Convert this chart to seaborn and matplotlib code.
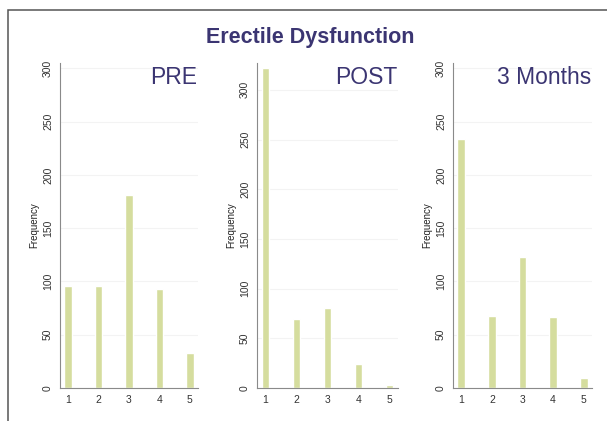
import numpy as np
import pandas as pd
import seaborn as sns
import matplotlib.pyplot as plt
from matplotlib.patches import Rectangle

# response categories (1-5) and counts per time point
scores = [1, 2, 3, 4, 5]
pre_counts = [96, 96, 181, 93, 33]
post_counts = [322, 69, 80, 24, 3]
months3_counts = [234, 68, 123, 67, 9]
panel_titles = ["PRE", "POST", "3 Months"]

BAR_COLOR = "#d5dd9e"
TEXT_COLOR = "#3b3572"
AXIS_COLOR = "#8a8a8a"

sns.set_style("white")
plt.rcParams['font.family'] = ['Liberation Sans', 'DejaVu Sans']

W, H = 607, 421
fig = plt.figure(figsize=(W / 100, H / 100), dpi=100)

# outer frame
fig.patches.append(Rectangle((8 / W, -0.05), 1.2, 1 - 10 / H + 0.05,
                             transform=fig.transFigure, fill=False,
                             edgecolor="#555555", linewidth=1.1))

fig.text(310 / W, 1 - 38 / H, "Erectile Dysfunction", ha="center", va="center",
         fontsize=15.5, fontweight="bold", color=TEXT_COLOR)

# axes boxes in pixels: left, right, top, bottom
boxes = [(60, 198, 63, 388), (257, 398, 63, 388), (453, 592, 63, 388)]
ylims = [305, 327, 305]
datasets = [pre_counts, post_counts, months3_counts]

for (l, r, t, b), counts, title, ytop in zip(boxes, datasets, panel_titles, ylims):
    ax = fig.add_axes([l / W, 1 - b / H, (r - l) / W, (b - t) / H])
    df = pd.DataFrame({"score": scores, "count": counts})
    sns.barplot(data=df, x="score", y="count", color=BAR_COLOR, width=0.25,
                saturation=1, ax=ax)
    ax.set_xlim(-0.27, 4.27)
    ax.set_ylim(0, ytop)
    ax.set_yticks(np.arange(0, 301, 50))
    ax.yaxis.grid(True, color="#f3f3f3", linewidth=0.8)
    ax.set_axisbelow(True)
    sns.despine(ax=ax)
    for s in ["left", "bottom"]:
        ax.spines[s].set_color(AXIS_COLOR)
        ax.spines[s].set_linewidth(0.8)
    ax.tick_params(axis="both", length=3, width=0.7, color=AXIS_COLOR,
                   labelsize=7.5, labelcolor="#333333", pad=2)
    for lab in ax.get_yticklabels():
        lab.set_rotation(90)
        lab.set_va("center")
    ax.set_xlabel("")
    ax.set_ylabel("Frequency", fontsize=7, color="#222222", labelpad=3)
    ax.text(0.995, 0.99, title, transform=ax.transAxes, ha="right", va="top",
            fontsize=16.5, color=TEXT_COLOR)

fig.savefig("out.png", dpi=100)
